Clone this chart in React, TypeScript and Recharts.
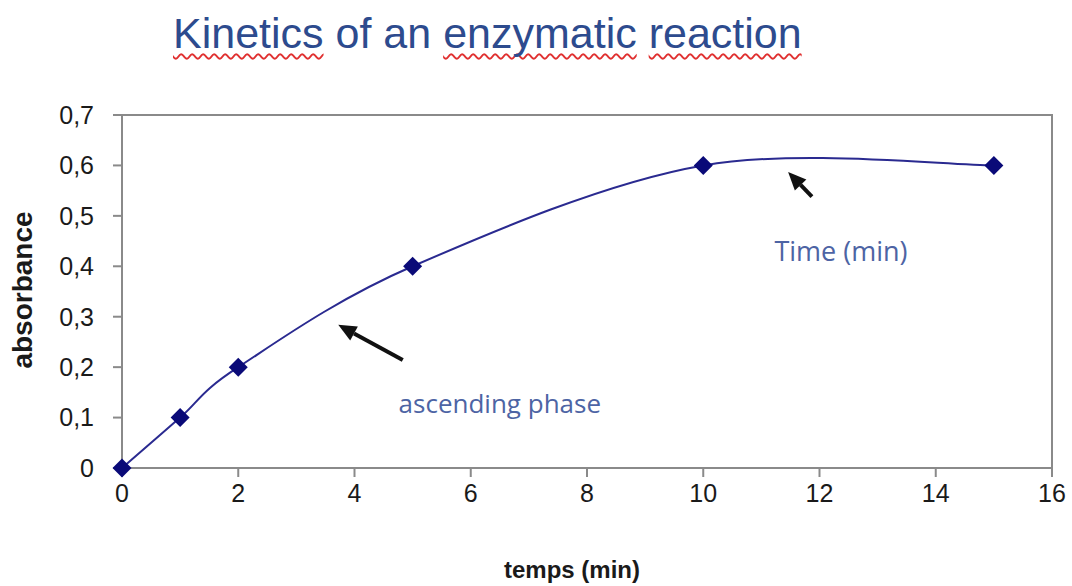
import { LineChart, Line, XAxis, YAxis, ReferenceArea, ReferenceLine, ReferenceDot } from 'recharts'

const times = [0, 1, 2, 5, 10, 15]
const absorbance = [0, 0.1, 0.2, 0.4, 0.6, 0.6]
const xTicks = [0, 2, 4, 6, 8, 10, 12, 14, 16]
const yTicks = [0, 0.1, 0.2, 0.3, 0.4, 0.5, 0.6, 0.7]

// annotation arrows: tail -> head, in data units
const arrowTails = [{ x: 4.83, y: 0.214 }, { x: 11.87, y: 0.538 }]
const arrowHeads = [{ x: 3.72, y: 0.284 }, { x: 11.46, y: 0.587 }]
const noteTexts = ['ascending phase', 'Time (min)']
const notePos = [{ x: 6.5, y: 0.129 }, { x: 12.37, y: 0.432 }]
const noteSizes = [26, 27]

const data = times.map((t, i) => ({ t, a: absorbance[i] }))

// excel-like smoothed line (catmull-rom as bezier)
const excelSmooth = (ctx: any) => {
  let pts: number[][] = []
  return {
    areaStart() {},
    areaEnd() {},
    lineStart() { pts = [] },
    point(x: number, y: number) { pts.push([+x, +y]) },
    lineEnd() {
      if (!pts.length) return
      ctx.moveTo(pts[0][0], pts[0][1])
      for (let i = 0; i < pts.length - 1; i++) {
        const p0 = pts[Math.max(i - 1, 0)]
        const p1 = pts[i]
        const p2 = pts[i + 1]
        const p3 = pts[Math.min(i + 2, pts.length - 1)]
        ctx.bezierCurveTo(
          p1[0] + (p2[0] - p0[0]) / 6, p1[1] + (p2[1] - p0[1]) / 6,
          p2[0] - (p3[0] - p1[0]) / 6, p2[1] - (p3[1] - p1[1]) / 6,
          p2[0], p2[1]
        )
      }
    },
  }
}

const Diamond = (props: any) => {
  const { cx, cy } = props
  if (cx == null || cy == null) return null
  const r = 9.5
  return <polygon points={`${cx},${cy - r} ${cx + r},${cy} ${cx},${cy + r} ${cx - r},${cy}`} fill="#0a0a78" />
}

const Arrow = (props: any) => {
  const { x1, y1, x2, y2 } = props
  const ang = Math.atan2(y2 - y1, x2 - x1)
  const len = 18, w = 8
  const bx = x2 - len * Math.cos(ang), by = y2 - len * Math.sin(ang)
  const px = -Math.sin(ang) * w, py = Math.cos(ang) * w
  return (
    <g>
      <line x1={x1} y1={y1} x2={bx} y2={by} stroke="#111" strokeWidth={4} />
      <polygon points={`${x2},${y2} ${bx + px},${by + py} ${bx - px},${by - py}`} fill="#111" />
    </g>
  )
}

const fmt = (v: number) => (v === 0 ? '0' : v.toFixed(1).replace('.', ','))
const arial = 'Liberation Sans, Arial, sans-serif'
const tickStyle = { fontFamily: arial, fontSize: 25, fill: '#1a1a1a' }
const squiggle = { textDecoration: 'underline wavy #e03030', textDecorationThickness: 1.5, textUnderlineOffset: 5, textDecorationSkipInk: 'none' } as const

export default function App() {
  return (
    <div style={{ position: 'absolute', left: 0, top: 0, width: 1072, height: 586, background: '#fff' }}>
      <div style={{ position: 'absolute', left: 173, top: 12, fontFamily: arial, fontSize: 43, lineHeight: '43px', color: '#2d4b8e', whiteSpace: 'nowrap' }}>
        <span style={squiggle}>Kinetics</span> of an{' '}
        <span style={squiggle}>enzymatic</span>{' '}
        <span style={squiggle}>reaction</span>
      </div>
      <LineChart width={1072} height={586} data={data} margin={{ top: 115, right: 20, bottom: 78, left: 0 }}>
        <ReferenceArea x1={0} x2={16} y1={0} y2={0.7} fill="none" stroke="#8a8a8a" strokeWidth={2} />
        <XAxis dataKey="t" type="number" domain={[0, 16]} ticks={xTicks} height={40} tick={tickStyle}
          tickSize={9} tickMargin={7} stroke="#8a8a8a" strokeWidth={2} interval={0} />
        <YAxis type="number" domain={[0, 0.7]} ticks={yTicks} width={122} tick={tickStyle} tickFormatter={fmt}
          tickSize={9} tickMargin={19} stroke="#8a8a8a" strokeWidth={2} interval={0} />
        <Line dataKey="a" type={excelSmooth as any} stroke="#2a2a90" strokeWidth={2} dot={<Diamond />} activeDot={false} isAnimationActive={false} />
        {arrowTails.map((tl, i) => (
          <ReferenceLine key={'a' + i} segment={[tl, arrowHeads[i]]} shape={Arrow} />
        ))}
        {noteTexts.map((s, i) => (
          <ReferenceDot key={'n' + i} x={notePos[i].x} y={notePos[i].y} r={0}
            shape={(p: any) => (
              <text x={p.cx} y={p.cy} textAnchor="middle" dominantBaseline="central" fontFamily="Open Sans, sans-serif" fontSize={noteSizes[i]} fill="#4d64a4">{s}</text>
            )} />
        ))}
      </LineChart>
      <div style={{ position: 'absolute', left: 572, top: 570, transform: 'translate(-50%, -50%)', fontFamily: arial, fontWeight: 'bold', fontSize: 24, color: '#1a1a1a', whiteSpace: 'nowrap' }}>temps (min)</div>
      <div style={{ position: 'absolute', left: 23, top: 290, transform: 'translate(-50%, -50%) rotate(-90deg)', fontFamily: arial, fontWeight: 'bold', fontSize: 28, color: '#1a1a1a', whiteSpace: 'nowrap' }}>absorbance</div>
    </div>
  )
}
